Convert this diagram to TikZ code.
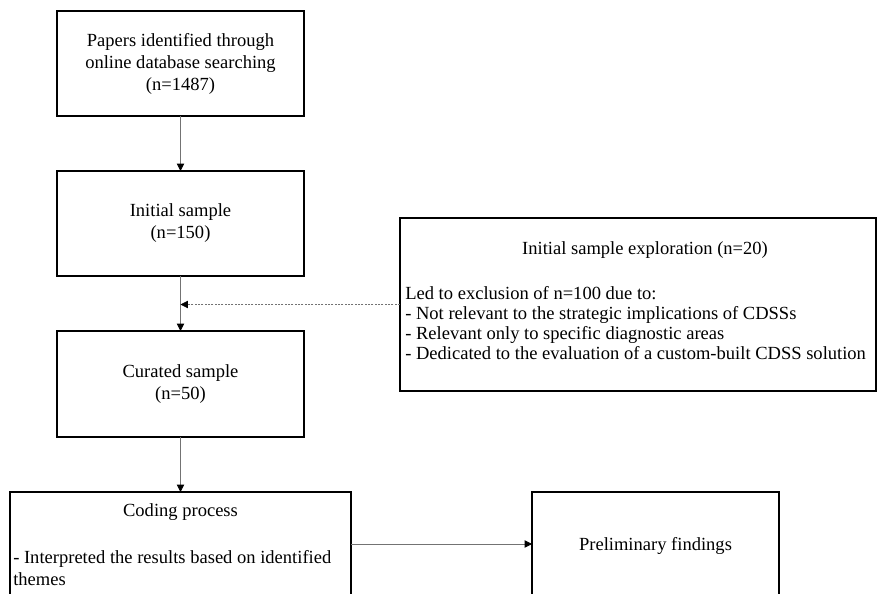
\documentclass[tikz,border=0pt]{standalone}
\usepackage{fontspec}
\setmainfont{Liberation Serif}
\usetikzlibrary{arrows.meta}
\begin{document}
\begin{tikzpicture}[x=0.75pt,y=-0.75pt,
  box/.style={draw=black, line width=0.9pt, rectangle, inner sep=0pt, outer sep=0pt,
    font=\fontsize{13.9}{16.5}\selectfont, align=center},
  txt/.style={inner sep=0pt, font=\fontsize{13.9}{16.5}\selectfont},
  conn/.style={draw=black!55, line width=0.6pt, -{Triangle[length=5.5pt,width=5.5pt,black]}},
  dconn/.style={conn, dash pattern=on 1.5pt off 1pt}]
\useasboundingbox (0,0) rectangle (878,593);
\clip (0,0) rectangle (878,593);
\fill[white] (0,0) rectangle (878,593);

\node[box, minimum width=185.25pt, minimum height=78.75pt] (b1) at (180.5,63.5)
  {Papers identified through\\online database searching\\(n=1487)};
\node[box, minimum width=185.25pt, minimum height=78.75pt] (b2) at (180.5,223.5)
  {Initial sample\\(n=150)};
\node[box, minimum width=185.25pt, minimum height=79.5pt] (b3) at (180.5,384)
  {Curated sample\\(n=50)};
\node[box, minimum width=255.75pt, minimum height=81pt] (b4) at (180.5,546) {};
\node[txt] (b4t) at (180.5,512) {Coding process};
\node[txt, anchor=west, align=left] (b4b) at (13,568)
  {- Interpreted the results based on identified\\themes};
\node[box, minimum width=185.25pt, minimum height=81pt] (b5) at (655.5,546)
  {Preliminary findings};

\node[box, minimum width=357pt, minimum height=129.75pt] (ex) at (638,304.5) {};
\node[txt] (ext) at (645,250) {Initial sample exploration (n=20)};
\node[txt, anchor=west, align=left, font=\fontsize{13.9}{15}\selectfont] (exb) at (405,323)
  {Led to exclusion of n=100 due to:\\
   - Not relevant to the strategic implications of CDSSs\\
   - Relevant only to specific diagnostic areas\\
   - Dedicated to the evaluation of a custom-built CDSS solution};

\coordinate (m) at (180.5,304.5);

\draw[conn] (b1.south) -- (b2.north);
\draw[conn] (b2.south) -- (b3.north);
\draw[conn] (b3.south) -- (b4.north);
\draw[conn] (b4.east |- 0,544) -- (b5.west |- 0,544);
\draw[dconn] (ex.west) -- (m);
\end{tikzpicture}
\end{document}
